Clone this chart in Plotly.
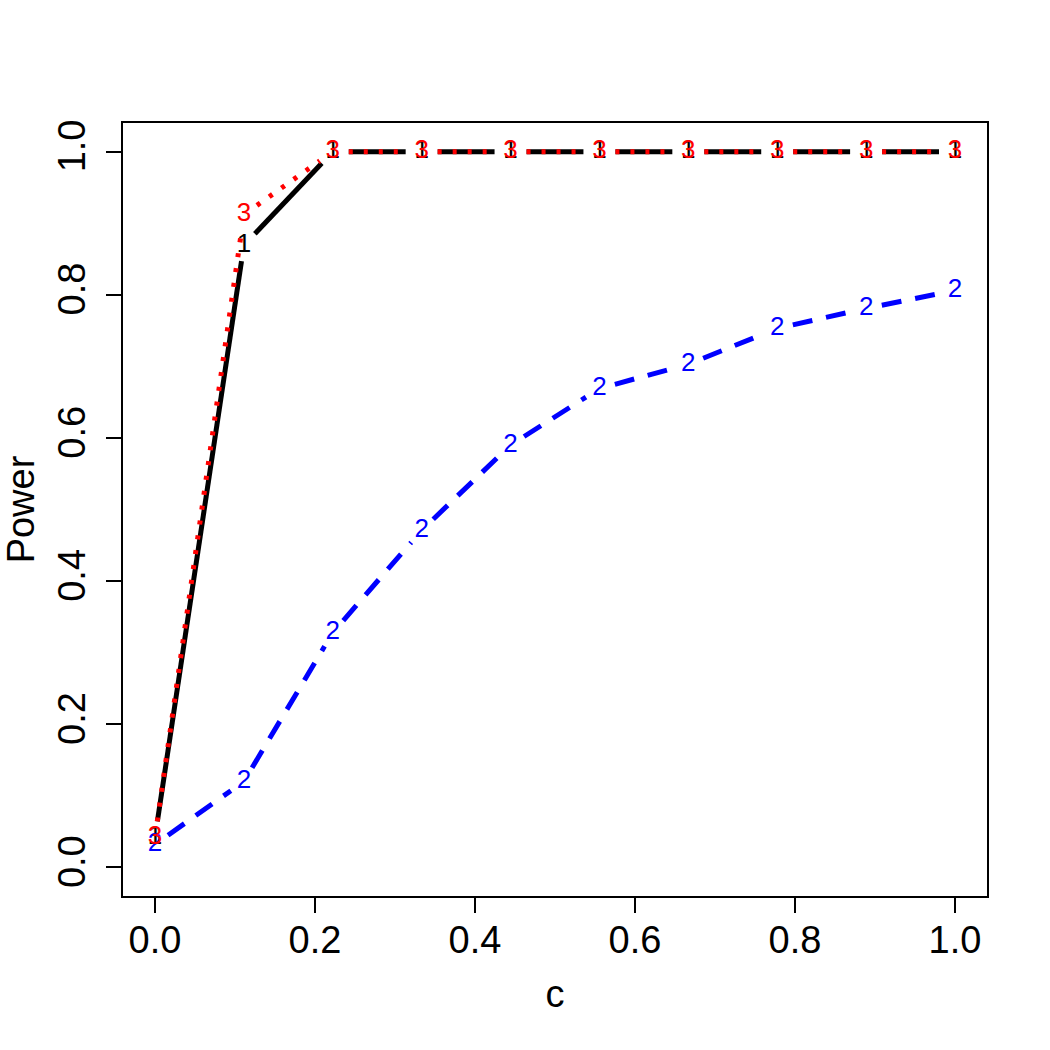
import plotly.graph_objects as go
import math

c_values = [0.0, 1/9, 2/9, 3/9, 4/9, 5/9, 6/9, 7/9, 8/9, 1.0]
power_1 = [0.042, 0.869, 1.0, 1.0, 1.0, 1.0, 1.0, 1.0, 1.0, 1.0]
power_2 = [0.032, 0.120, 0.328, 0.471, 0.590, 0.669, 0.703, 0.753, 0.781, 0.806]
power_3 = [0.042, 0.912, 1.0, 1.0, 1.0, 1.0, 1.0, 1.0, 1.0, 1.0]
tick_vals = [0.0, 0.2, 0.4, 0.6, 0.8, 1.0]
tick_text = ["0.0", "0.2", "0.4", "0.6", "0.8", "1.0"]

W, H = 1050, 1050
ML, MR, MT, MB = 123, 63, 123, 154
xr = [-0.04, 1.04]
yr = [-0.04, 1.04]
pw = W - ML - MR
ph = H - MT - MB
sx = pw / (xr[1] - xr[0])
sy = ph / (yr[1] - yr[0])
GAP = 16.0

def gapped(xs, ys):
    ox, oy = [], []
    for i in range(len(xs) - 1):
        dx = (xs[i+1] - xs[i]) * sx
        dy = (ys[i+1] - ys[i]) * sy
        d = math.hypot(dx, dy)
        if d <= 2 * GAP:
            continue
        f = GAP / d
        ox += [xs[i] + (xs[i+1] - xs[i]) * f, xs[i+1] - (xs[i+1] - xs[i]) * f, None]
        oy += [ys[i] + (ys[i+1] - ys[i]) * f, ys[i+1] - (ys[i+1] - ys[i]) * f, None]
    return ox, oy

FONT = "Liberation Sans, Arial, Helvetica, sans-serif"
series = [
    (power_1, "1", "black", "solid"),
    (power_2, "2", "blue", "20px,14px"),
    (power_3, "3", "red", "4px,11px"),
]

fig = go.Figure()
for ys, lab, col, dash in series:
    lx, ly = gapped(c_values, ys)
    fig.add_trace(go.Scatter(x=lx, y=ly, mode="lines",
                             line=dict(color=col, width=5, dash=dash),
                             hoverinfo="skip", showlegend=False))
    fig.add_trace(go.Scatter(x=c_values, y=ys, mode="text", text=[lab]*len(ys),
                             textposition="middle center",
                             textfont=dict(family=FONT, size=26, color=col),
                             showlegend=False))

fig.update_layout(
    width=W, height=H,
    margin=dict(l=ML, r=MR, t=MT, b=MB, pad=0, autoexpand=False),
    plot_bgcolor="white", paper_bgcolor="white",
    font=dict(family=FONT, color="black"),
    showlegend=False,
)
fig.update_xaxes(range=xr, tickvals=tick_vals, ticktext=tick_text, automargin=False,
                 showgrid=False, zeroline=False, showline=True, linecolor="black",
                 linewidth=1.5, mirror=True, ticks="outside", ticklen=15,
                 tickwidth=1.5, tickcolor="black", tickfont=dict(size=38),
                 ticklabelstandoff=-5,
                 title=dict(text="c", font=dict(size=38), standoff=20))
fig.update_yaxes(range=yr, tickvals=tick_vals, ticktext=tick_text, tickangle=-90,
                 automargin=False, ticklabelstandoff=6,
                 showgrid=False, zeroline=False, showline=True, linecolor="black",
                 linewidth=1.5, mirror=True, ticks="outside", ticklen=15,
                 tickwidth=1.5, tickcolor="black", tickfont=dict(size=38),
                 title=dict(text="Power", font=dict(size=38), standoff=26))

fig.write_html("out.html")
